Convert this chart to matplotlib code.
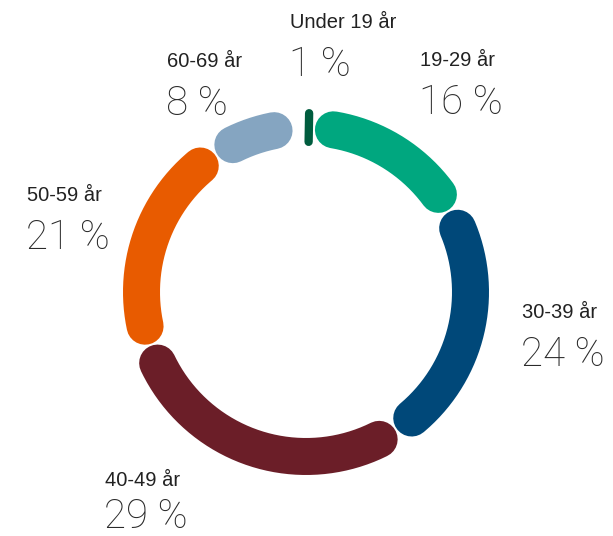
import numpy as np
import matplotlib
matplotlib.use("Agg")
import matplotlib.pyplot as plt

categories = ["Under 19 år", "19-29 år", "30-39 år", "40-49 år", "50-59 år", "60-69 år"]
values = [1, 16, 24, 29, 21, 8]
pct_labels = ["1 %", "16 %", "24 %", "29 %", "21 %", "8 %"]
colors = ["#005C3E", "#00A77F", "#004879", "#6B1E28", "#E85B00", "#85A5C1"]

# label anchor positions (left x, baseline y of category / percent) in pixels
label_pos = [(290, 28, 76), (420, 66, 114), (522, 318, 366),
             (105, 486, 528), (27, 201, 249), (167, 67, 115)]

W, H = 613, 536
fig = plt.figure(figsize=(W / 100, H / 100), dpi=100)
ax = fig.add_axes([0, 0, 1, 1])
ax.set_xlim(0, W)
ax.set_ylim(H, 0)
ax.axis("off")

cx, cy = 306, 292
r = 164.5
w = 37.0
gap = 2.0
start = -0.8
px2pt = 72 / 100

total = 100.0
cum = 0.0
for v, c in zip(values, colors):
    a0 = np.radians(start + cum / total * 360)
    a1 = np.radians(start + (cum + v) / total * 360)
    cum += v
    arc_len = (a1 - a0) * r
    if arc_len - gap > w:
        d = (w / 2 + gap / 2) / r
        th = np.linspace(a0 + d, a1 - d, 200)
        ax.plot(cx + r * np.sin(th), cy - r * np.cos(th), color=c,
                lw=w * px2pt, solid_capstyle="round")
    else:
        sw = arc_len - gap
        tm = (a0 + a1) / 2
        rr = np.array([r - (w / 2 - sw / 2), r + (w / 2 - sw / 2)])
        ax.plot(cx + rr * np.sin(tm), cy - rr * np.cos(tm), color=c,
                lw=sw * px2pt, solid_capstyle="round")

for cat, pl, (x, yb1, yb2) in zip(categories, pct_labels, label_pos):
    ax.text(x, yb1, cat, fontsize=14.5, family=["Liberation Sans", "DejaVu Sans"],
            color="#222222", ha="left", va="baseline")
    ax.text(x - 1, yb2, pl, fontsize=29, family=["Roboto", "DejaVu Sans"],
            fontweight="light", color="#2a2a2a", ha="left", va="baseline")

fig.savefig("out.png", dpi=100)
